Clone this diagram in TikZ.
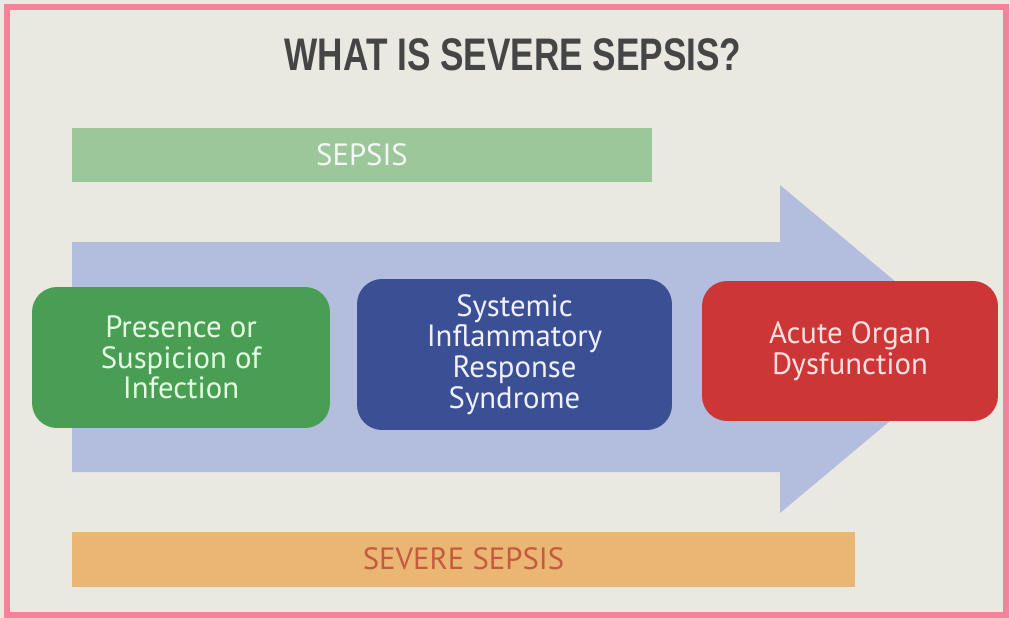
\documentclass[tikz,border=0pt]{standalone}
\usepackage{fontspec}
\setmainfont{PT Sans}
\newfontfamily\headfont{Liberation Sans}
\usetikzlibrary{positioning}
\definecolor{bgcol}{HTML}{EAE9E1}
\definecolor{framecol}{HTML}{F2839B}
\definecolor{titlecol}{HTML}{454545}
\definecolor{sepsisbar}{HTML}{9CC79A}
\definecolor{severebar}{HTML}{EAB674}
\definecolor{severetxt}{HTML}{C65A3F}
\definecolor{arrowcol}{HTML}{B3BEDE}
\definecolor{infectcol}{HTML}{4A9E53}
\definecolor{sirscol}{HTML}{3B4F95}
\definecolor{organcol}{HTML}{CC3637}

\begin{document}
\begin{tikzpicture}[x=0.02cm, y=-0.02cm,
    stage/.style={rounded corners=0.5cm, align=center, inner sep=0pt, font=\fontsize{17.5}{17.5}\selectfont},
    bar/.style={minimum height=1.1cm, inner sep=0pt, font=\fontsize{17.5}{20}\selectfont}
]
    % Frame
    \fill[bgcol] (0,0) rectangle (1010,618);
    \draw[framecol, line width=0.12cm] (7,7) rectangle (1006,615);
    % Title
    \node[text=titlecol, font=\headfont\bfseries\fontsize{26}{30}\selectfont] (title) at (513,55) {\scalebox{0.77}[1]{WHAT IS SEVERE SEPSIS?}};
    % Bars
    \node[bar, fill=sepsisbar, text=white!90!sepsisbar, minimum width=11.6cm] (sepsis) at (362,155) {SEPSIS};
    \node[bar, fill=severebar, text=severetxt, minimum width=15.66cm] (severe) at (463.5,559) {SEVERE SEPSIS};
    % Arrow
    \fill[arrowcol] (72,242) -- (780,242) -- (780,185) -- (976,349) -- (780,513) -- (780,472) -- (72,472) -- cycle;
    % Stages
    \node[stage, fill=infectcol, text=green!10!white, minimum width=5.96cm, minimum height=2.82cm] (infection) at (181,357.5) {Presence or\\Suspicion of\\Infection};
    \node[stage, fill=sirscol, text=blue!6!white, minimum width=6.3cm, minimum height=3.02cm] (sirs) at (514.5,354.5) {Systemic\\Inflammatory\\Response\\Syndrome};
    \node[stage, fill=organcol, text=red!12!white, minimum width=5.92cm, minimum height=2.8cm] (organ) at (850,351) {Acute Organ\\Dysfunction};
\end{tikzpicture}
\end{document}
